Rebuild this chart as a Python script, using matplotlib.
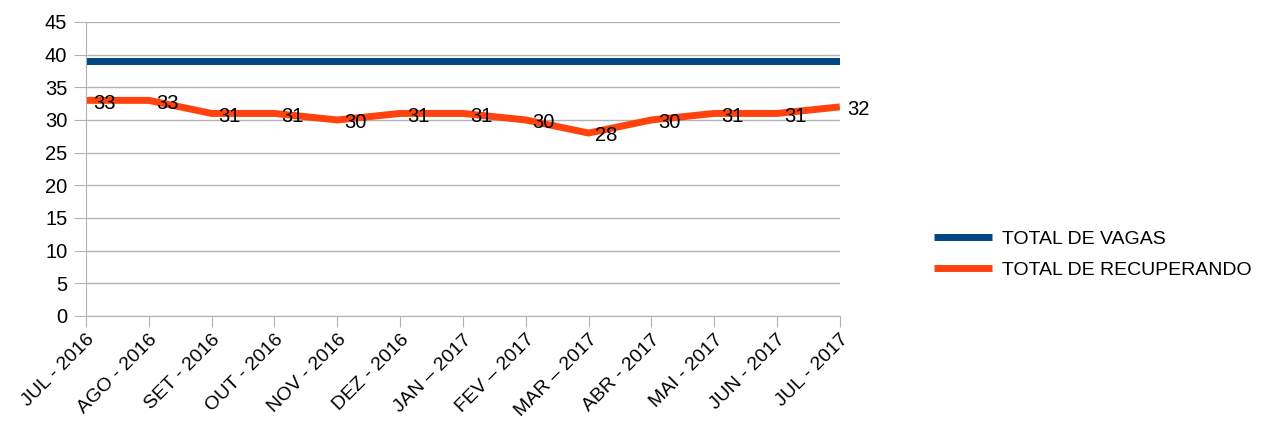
import matplotlib
matplotlib.use("Agg")
import matplotlib.pyplot as plt

plt.rcParams['font.family'] = ['Liberation Sans', 'DejaVu Sans']

meses = ['JUL - 2016', 'AGO - 2016', 'SET - 2016', 'OUT - 2016', 'NOV - 2016',
         'DEZ - 2016', 'JAN – 2017', 'FEV – 2017', 'MAR – 2017', 'ABR - 2017',
         'MAI - 2017', 'JUN - 2017', 'JUL - 2017']
vagas = [39, 39, 39, 39, 39, 39, 39, 39, 39, 39, 39, 39, 39]
recuperando = [33, 33, 31, 31, 30, 31, 31, 30, 28, 30, 31, 31, 32]

fig = plt.figure(figsize=(12.61, 4.28), dpi=100)
ax = fig.add_axes([0.0682, 0.2617, 0.5978, 0.687])

x = list(range(len(meses)))
ax.plot(x, vagas, color='#004586', lw=5, solid_capstyle='butt', label='TOTAL DE VAGAS')
ax.plot(x, recuperando, color='#ff420e', lw=5, solid_capstyle='butt',
        label='TOTAL DE RECUPERANDO')

for xi, yi in zip(x, recuperando):
    ax.annotate(str(yi), (xi, yi), xytext=(5, -2), textcoords='offset points',
                ha='left', va='center', fontsize=14.5, color='black')

ax.set_xlim(0, len(meses) - 1)
ax.set_ylim(0, 45)
ax.set_yticks(range(0, 46, 5))
ax.set_xticks(x)
ax.set_xticklabels(meses, rotation=45, ha='right', rotation_mode='anchor', fontsize=14)
ax.tick_params(axis='y', labelsize=14.5, length=8.5, color='#b3b3b3', pad=5)
ax.tick_params(axis='x', length=8, color='#b3b3b3', pad=3)

ax.grid(axis='y', color='#b3b3b3', lw=1)
ax.set_axisbelow(True)
for s in ['top', 'right']:
    ax.spines[s].set_visible(False)
ax.spines['left'].set_color('#b3b3b3')
ax.spines['bottom'].set_color('#b3b3b3')

fig.legend(loc='center left', bbox_to_anchor=(0.7265, 0.405), frameon=False,
           fontsize=14, handlelength=3.0, handletextpad=0.5, labelspacing=0.7)

fig.savefig('out.png', dpi=100)
